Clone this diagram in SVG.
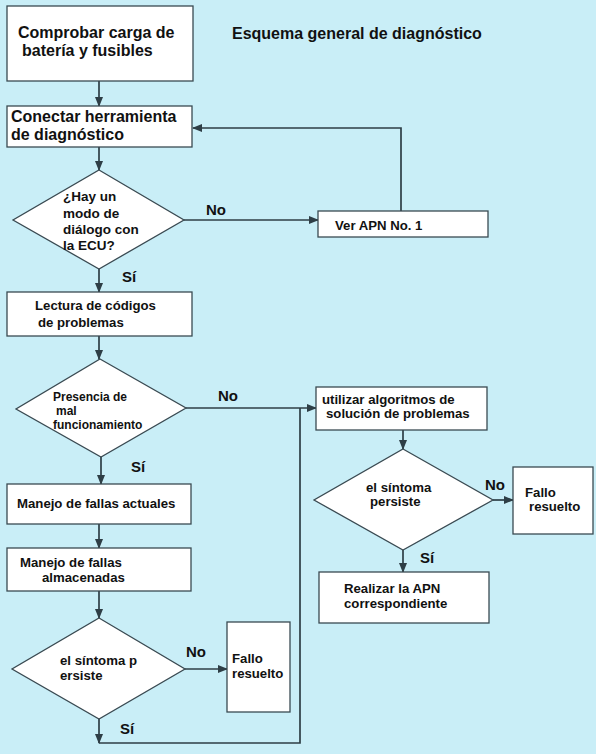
<svg xmlns="http://www.w3.org/2000/svg" width="596" height="754" viewBox="0 0 596 754">
<style>
.bg{fill:#c9eef7}
.box{fill:#ffffff;stroke:#3a4a52;stroke-width:1.3}
.ln{fill:none;stroke:#2e3e46;stroke-width:1.7}
text{font-family:"Liberation Sans",Arial,sans-serif;font-weight:bold;fill:#111}
.t16{font-size:16px}
.t14{font-size:13.5px}
.t13{font-size:13.2px}
.t12{font-size:12px}
.lbl{font-size:15px}
</style>
<defs>
<marker id="ah" markerWidth="10" markerHeight="10" refX="9" refY="5" orient="auto" markerUnits="userSpaceOnUse">
<path d="M0,1 L10,5 L0,9 Z" fill="#2e3e46"/>
</marker>
</defs>
<rect class="bg" x="0" y="0" width="596" height="754"/>
<text class="t16" x="232" y="39">Esquema general de diagnóstico</text>
<g id="connectors">
<path class="ln" d="M99,81 V106" marker-end="url(#ah)"/>
<path class="ln" d="M99,147 V170" marker-end="url(#ah)"/>
<path class="ln" d="M184,220 H318" marker-end="url(#ah)"/>
<path class="ln" d="M401,211 V128 H193" marker-end="url(#ah)"/>
<path class="ln" d="M99,269 V292" marker-end="url(#ah)"/>
<path class="ln" d="M99,336 V359" marker-end="url(#ah)"/>
<path class="ln" d="M186,408 H316" marker-end="url(#ah)"/>
<path class="ln" d="M101,457 V484" marker-end="url(#ah)"/>
<path class="ln" d="M99,524 V548" marker-end="url(#ah)"/>
<path class="ln" d="M99,591 V618" marker-end="url(#ah)"/>
<path class="ln" d="M185,669 H227" marker-end="url(#ah)"/>
<path class="ln" d="M99,719 V743" marker-end="url(#ah)"/>
<path class="ln" d="M99,743 H300 V408"/>
<path class="ln" d="M403,430 V449" marker-end="url(#ah)"/>
<path class="ln" d="M493,500 H513" marker-end="url(#ah)"/>
<path class="ln" d="M403,550 V572" marker-end="url(#ah)"/>
</g>
<g id="labels">
<text class="lbl" x="206" y="215">No</text>
<text class="lbl" x="122" y="282">Sí</text>
<text class="lbl" x="218" y="401">No</text>
<text class="lbl" x="131" y="472">Sí</text>
<text class="lbl" x="485" y="490">No</text>
<text class="lbl" x="420" y="563">Sí</text>
<text class="lbl" x="186" y="657">No</text>
<text class="lbl" x="120" y="734">Sí</text>
</g>
<g id="n1">
<rect class="box" x="7" y="6" width="186" height="75"/>
<text class="t16" x="18" y="38">Comprobar carga de</text>
<text class="t16" x="22" y="56">batería y fusibles</text>
</g>
<g id="n2">
<rect class="box" x="7" y="106" width="185" height="41"/>
<text class="t16" x="11" y="122">Conectar herramienta</text>
<text class="t16" x="11" y="140">de diagnóstico</text>
</g>
<g id="n3">
<polygon class="box" points="99,170 184,220 99,269 13,220"/>
<text class="t14" x="63" y="201">¿Hay un</text>
<text class="t14" x="63" y="218">modo de</text>
<text class="t14" x="63" y="234">diálogo con</text>
<text class="t14" x="63" y="250">la ECU?</text>
</g>
<g id="n4">
<rect class="box" x="318" y="211" width="170" height="26"/>
<text class="t13" x="335" y="230">Ver APN No. 1</text>
</g>
<g id="n5">
<rect class="box" x="7" y="292" width="185" height="44"/>
<text class="t13" x="35" y="310">Lectura de códigos</text>
<text class="t13" x="38" y="327">de problemas</text>
</g>
<g id="n6">
<polygon class="box" points="100,359 186,408 101,457 16,409"/>
<text class="t12" x="53" y="401">Presencia de</text>
<text class="t12" x="56" y="415">mal</text>
<text class="t12" x="53" y="429">funcionamiento</text>
</g>
<g id="n7">
<rect class="box" x="316" y="387" width="171" height="43"/>
<text class="t13" x="322" y="404">utilizar algoritmos de</text>
<text class="t13" x="326" y="418">solución de problemas</text>
</g>
<g id="n8">
<polygon class="box" points="403,449 493,500 403,550 314,500"/>
<text class="t13" x="366" y="492">el síntoma</text>
<text class="t13" x="370" y="506">persiste</text>
</g>
<g id="n9">
<rect class="box" x="513" y="467" width="80" height="67"/>
<text class="t13" x="525" y="497">Fallo</text>
<text class="t13" x="529" y="511">resuelto</text>
</g>
<g id="n10">
<rect class="box" x="319" y="572" width="170" height="51"/>
<text class="t13" x="344" y="593">Realizar la APN</text>
<text class="t13" x="344" y="608">correspondiente</text>
</g>
<g id="n11">
<rect class="box" x="7" y="484" width="184" height="40"/>
<text class="t13" x="17" y="508">Manejo de fallas actuales</text>
</g>
<g id="n12">
<rect class="box" x="7" y="548" width="184" height="43"/>
<text class="t13" x="20" y="567">Manejo de fallas</text>
<text class="t13" x="42" y="582">almacenadas</text>
</g>
<g id="n13">
<polygon class="box" points="99,618 185,669 99,719 12,669"/>
<text class="t13" x="60" y="665">el síntoma p</text>
<text class="t13" x="60" y="680">ersiste</text>
</g>
<g id="n14">
<rect class="box" x="227" y="622" width="63" height="90"/>
<text class="t13" x="232" y="663">Fallo</text>
<text class="t13" x="232" y="678">resuelto</text>
</g>
</svg>
